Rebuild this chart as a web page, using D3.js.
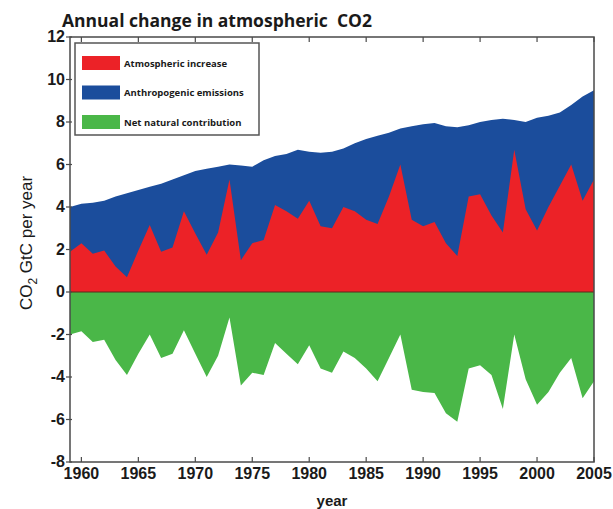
<!DOCTYPE html>
<html>
<head>
<meta charset="utf-8">
<script src="https://cdn.jsdelivr.net/npm/d3@7"></script>
<style>
  body { margin: 0; background: #fff; }
</style>
</head>
<body>
<div id="chart"></div>
<script>
// data (GtC per year)
const years = [1959, 1960, 1961, 1962, 1963, 1964, 1965, 1966, 1967, 1968, 1969,
  1970, 1971, 1972, 1973, 1974, 1975, 1976, 1977, 1978, 1979,
  1980, 1981, 1982, 1983, 1984, 1985, 1986, 1987, 1988, 1989,
  1990, 1991, 1992, 1993, 1994, 1995, 1996, 1997, 1998, 1999,
  2000, 2001, 2002, 2003, 2004, 2005];
const emissions = [4.0, 4.15, 4.2, 4.3, 4.5, 4.65, 4.8, 4.95, 5.1, 5.3, 5.5,
  5.7, 5.8, 5.9, 6.0, 5.95, 5.9, 6.2, 6.4, 6.5, 6.7,
  6.6, 6.55, 6.6, 6.75, 7.0, 7.2, 7.35, 7.5, 7.7, 7.8,
  7.9, 7.95, 7.8, 7.75, 7.85, 8.0, 8.1, 8.15, 8.1, 8.0,
  8.2, 8.3, 8.45, 8.8, 9.2, 9.5];
const atmospheric = [1.9, 2.3, 1.8, 1.95, 1.2, 0.7, 1.95, 3.15, 1.9, 2.1, 3.8,
  2.75, 1.75, 2.8, 5.3, 1.5, 2.3, 2.45, 4.1, 3.8, 3.45,
  4.3, 3.1, 3.0, 4.0, 3.8, 3.4, 3.2, 4.5, 6.0, 3.4,
  3.1, 3.3, 2.3, 1.7, 4.5, 4.6, 3.6, 2.8, 6.7, 3.9,
  2.9, 4.0, 5.0, 6.0, 4.3, 5.3];
const natural = [-2.0, -1.85, -2.35, -2.25, -3.2, -3.9, -2.9, -2.0, -3.1, -2.9, -1.8,
  -2.9, -4.0, -3.0, -1.2, -4.4, -3.8, -3.9, -2.4, -2.9, -3.4,
  -2.5, -3.6, -3.8, -2.8, -3.1, -3.6, -4.2, -3.1, -2.0, -4.6,
  -4.7, -4.75, -5.7, -6.1, -3.6, -3.45, -3.9, -5.5, -2.0, -4.1,
  -5.3, -4.7, -3.8, -3.1, -5.0, -4.2];

const xTicks = [1960, 1965, 1970, 1975, 1980, 1985, 1990, 1995, 2000, 2005];
const yTicks = [-8, -6, -4, -2, 0, 2, 4, 6, 8, 10, 12];
const seriesNames = ["Atmospheric increase", "Anthropogenic emissions", "Net natural contribution"];
const seriesColors = ["#ec2227", "#1b4d9c", "#4ab748"];

const width = 613, height = 509;
const margin = {top: 37, right: 19, bottom: 47, left: 70};

const svg = d3.select("#chart")
    .append("svg")
    .attr("width", width)
    .attr("height", height);

const x = d3.scaleLinear()
    .domain([1959, 2005])
    .range([margin.left, width - margin.right]);

const y = d3.scaleLinear()
    .domain([-8, 12])
    .range([height - margin.bottom, margin.top]);

const area = vals => d3.area()
    .x((d, i) => x(years[i]))
    .y0(y(0))
    .y1(d => y(d))(vals);

// blue under red, green below zero
svg.append("path").attr("d", area(emissions)).attr("fill", seriesColors[1]);
svg.append("path").attr("d", area(atmospheric)).attr("fill", seriesColors[0]);
svg.append("path").attr("d", area(natural)).attr("fill", seriesColors[2]);

// zero line
svg.append("line")
    .attr("x1", x(1959)).attr("x2", x(2005))
    .attr("y1", y(0)).attr("y2", y(0))
    .attr("stroke", "#5a2a1a")
    .attr("stroke-width", 1.2);

// frame
svg.append("rect")
    .attr("x", x(1959)).attr("y", y(12))
    .attr("width", x(2005) - x(1959))
    .attr("height", y(-8) - y(12))
    .attr("fill", "none")
    .attr("stroke", "#4a4a4a")
    .attr("stroke-width", 1.5);

const tickFont = "'Liberation Sans Narrow', 'Liberation Sans', Arial, sans-serif";

// x ticks (bottom and top, pointing inward)
const xt = svg.append("g");
xTicks.forEach(t => {
  xt.append("line").attr("x1", x(t)).attr("x2", x(t))
    .attr("y1", y(-8)).attr("y2", y(-8) - 5)
    .attr("stroke", "#4a4a4a").attr("stroke-width", 1.2);
  xt.append("line").attr("x1", x(t)).attr("x2", x(t))
    .attr("y1", y(12)).attr("y2", y(12) + 5)
    .attr("stroke", "#4a4a4a").attr("stroke-width", 1.2);
  xt.append("text")
    .attr("x", x(t)).attr("y", y(-8) + 17)
    .attr("text-anchor", "middle")
    .style("font-family", tickFont)
    .style("font-weight", "bold")
    .style("font-size", "16px")
    .style("fill", "#1a1a1a")
    .text(t);
});

// y ticks
const yt = svg.append("g");
yTicks.forEach(t => {
  yt.append("line").attr("x1", x(1959) - 4).attr("x2", x(1959) + 2)
    .attr("y1", y(t)).attr("y2", y(t))
    .attr("stroke", "#4a4a4a").attr("stroke-width", 1.2);
  yt.append("text")
    .attr("x", x(1959) - 5).attr("y", y(t) + 5)
    .attr("text-anchor", "end")
    .style("font-family", tickFont)
    .style("font-weight", "bold")
    .style("font-size", "16px")
    .style("fill", "#1a1a1a")
    .text(t);
});

// title
svg.append("text")
    .attr("x", 62).attr("y", 27)
    .style("font-family", "'Open Sans', sans-serif")
    .style("font-weight", "bold")
    .style("font-size", "17.5px")
    .style("fill", "#1a1a1a")
    .text("Annual change in atmospheric\u00a0\u00a0CO2");

// axis labels
svg.append("text")
    .attr("x", (x(1959) + x(2005)) / 2).attr("y", 506)
    .attr("text-anchor", "middle")
    .style("font-family", tickFont)
    .style("font-weight", "bold")
    .style("font-size", "15px")
    .style("fill", "#1a1a1a")
    .text("year");

const ylab = svg.append("text")
    .attr("transform", "translate(32," + 243 + ") rotate(-90)")
    .attr("text-anchor", "middle")
    .style("font-family", "'Liberation Sans', Arial, sans-serif")
    .style("font-size", "17px")
    .style("fill", "#1a1a1a");
ylab.append("tspan").text("CO");
ylab.append("tspan").attr("dy", 5).style("font-size", "12px").text("2");
ylab.append("tspan").attr("dy", -5).text(" GtC per year");

// legend
const legend = svg.append("g");
legend.append("rect")
    .attr("x", 75).attr("y", 43).attr("width", 184).attr("height", 92)
    .attr("fill", "#fff")
    .attr("stroke", "#555")
    .attr("stroke-width", 1.5);
seriesNames.forEach((name, i) => {
  const cy = 63 + i * 29.5;
  legend.append("rect")
    .attr("x", 82).attr("y", cy - 7).attr("width", 38).attr("height", 14)
    .attr("fill", seriesColors[i]);
  legend.append("text")
    .attr("x", 124).attr("y", cy + 3.5)
    .style("font-family", "'Open Sans', sans-serif")
    .style("font-weight", "bold")
    .style("font-size", "9.5px")
    .style("fill", "#1a1a1a")
    .text(name);
});
</script>
</body>
</html>
